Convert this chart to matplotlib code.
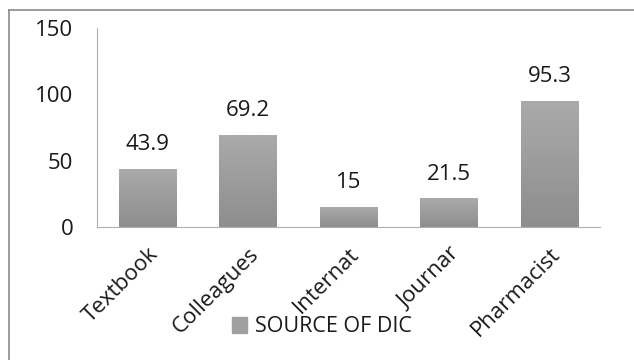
import matplotlib
matplotlib.use('Agg')
import numpy as np
import matplotlib.pyplot as plt
from matplotlib.lines import Line2D
from matplotlib.colors import LinearSegmentedColormap

# data
categories = ['Textbook', 'Colleagues', 'Internat', 'Journar', 'Pharmacist']
values = [43.9, 69.2, 15, 21.5, 95.3]
yticks = [0, 50, 100, 150]
series_name = 'SOURCE OF DIC'

plt.rcParams['font.family'] = ['Open Sans', 'DejaVu Sans']

W, H = 634, 360
fig = plt.figure(figsize=(W / 100, H / 100), dpi=100)
ax = fig.add_axes([97 / W, 1 - 227 / H, 503 / W, 199 / H])

bar_color = '#a0a0a0'
bars = ax.bar(range(len(categories)), values, width=0.57, color=bar_color)

# soft vertical gradient like the Excel fill (darker at the base)
grad = LinearSegmentedColormap.from_list('g', ['#8e8e8e', '#aaaaaa'])
ramp = np.linspace(0, 1, 64).reshape(-1, 1)
for b in bars:
    x0, y0 = b.get_x(), b.get_y()
    im = ax.imshow(ramp, cmap=grad, aspect='auto', origin='lower',
                   extent=[x0, x0 + b.get_width(), y0, y0 + b.get_height()], zorder=2)
    im.set_clip_path(b)
    b.set_facecolor('none')

# value labels
for i, v in enumerate(values):
    ax.annotate(f'{v:g}', (i, v), xytext=(0, 10), textcoords='offset points',
                ha='center', va='bottom', fontsize=16, color='#1a1a1a')

ax.set_xlim(-0.5, len(categories) - 0.5)
ax.set_ylim(0, 150)
ax.set_yticks(yticks)
ax.set_xticks(range(len(categories)))
ax.set_xticklabels(categories, rotation=45, ha='right', rotation_mode='anchor')
ax.tick_params(axis='both', length=0, labelsize=16, colors='#1a1a1a')
ax.tick_params(axis='y', pad=17)
ax.tick_params(axis='x', pad=12)

for s in ['top', 'right']:
    ax.spines[s].set_visible(False)
ax.spines['left'].set_color('#b0b0b0')
ax.spines['bottom'].set_color('#b0b0b0')

# legend (solid square handle)
handle = plt.Rectangle((0, 0), 1, 1, color=bar_color)
fig.legend([handle], [series_name], loc='center', bbox_to_anchor=(322 / W, 1 - 327 / H),
           frameon=False, fontsize=15.5, handlelength=0.7, handleheight=0.7,
           handletextpad=0.4, labelcolor='#1a1a1a')

# outer chart border (only left/top visible in the crop)
fig.add_artist(Line2D([9 / W, 9 / W], [0, 1 - 10 / H], transform=fig.transFigure,
                      color='#8a8a8a', lw=1.2))
fig.add_artist(Line2D([9 / W, 1], [1 - 10 / H, 1 - 10 / H], transform=fig.transFigure,
                      color='#8a8a8a', lw=1.2))

fig.savefig('out.png', dpi=100)
